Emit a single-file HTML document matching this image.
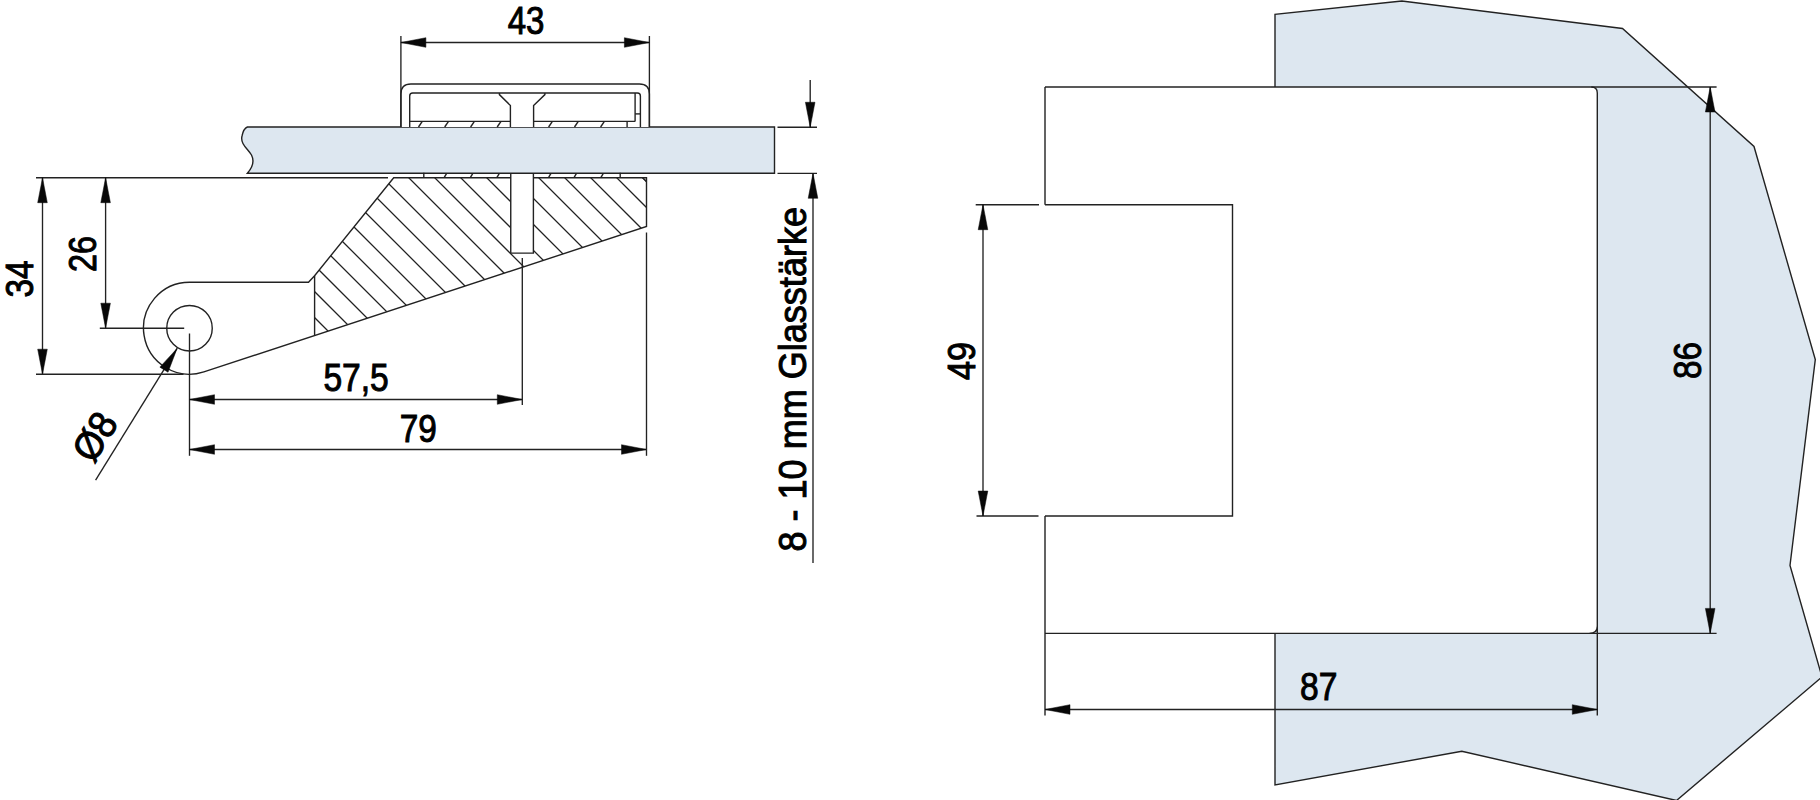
<!DOCTYPE html>
<html><head><meta charset="utf-8"><style>
html,body{margin:0;padding:0;background:#fff;width:1820px;height:800px;overflow:hidden}
svg{display:block}
text{font-family:"Liberation Sans", sans-serif;fill:#000;stroke:#000;stroke-width:1.0px}
</style></head><body>
<svg width="1820" height="800" viewBox="0 0 1820 800">
<rect width="1820" height="800" fill="#fff"/>
<path d="M247.4,173.2 C252,168 255,162 251.5,155 C248,149 240,144 242,136 C243,131 245,128 247.4,127 L774.5,127 L774.5,173.2 Z" fill="#dde7f0" stroke="#222" stroke-width="1.4"/>
<path d="M400.9,127 L400.9,94 Q400.9,84 410.9,84 L639.4,84 Q649.4,84 649.4,94 L649.4,127" fill="#fff" stroke="#222" stroke-width="1.4"/>
<path d="M409.7,127 L409.7,96 Q409.7,93 412.7,93 L637.4,93 Q640.4,93 640.4,96 L640.4,127" fill="none" stroke="#222" stroke-width="1.4"/>
<line x1="635.10" y1="93.00" x2="635.10" y2="121.40" stroke="#222" stroke-width="1.4"/>
<line x1="635.10" y1="113.90" x2="640.40" y2="113.90" stroke="#222" stroke-width="1.4"/>
<line x1="409.70" y1="121.40" x2="510.40" y2="121.40" stroke="#222" stroke-width="1.4"/>
<line x1="533.60" y1="121.40" x2="635.10" y2="121.40" stroke="#222" stroke-width="1.4"/>
<line x1="627.10" y1="121.40" x2="627.10" y2="127.00" stroke="#222" stroke-width="1.4"/>
<line x1="422.30" y1="121.40" x2="418.50" y2="127.00" stroke="#222" stroke-width="1.4"/>
<line x1="448.50" y1="121.40" x2="444.70" y2="127.00" stroke="#222" stroke-width="1.4"/>
<line x1="474.40" y1="121.40" x2="470.60" y2="127.00" stroke="#222" stroke-width="1.4"/>
<line x1="501.00" y1="121.40" x2="497.20" y2="127.00" stroke="#222" stroke-width="1.4"/>
<line x1="552.40" y1="121.40" x2="548.60" y2="127.00" stroke="#222" stroke-width="1.4"/>
<line x1="578.30" y1="121.40" x2="574.50" y2="127.00" stroke="#222" stroke-width="1.4"/>
<line x1="604.40" y1="121.40" x2="600.60" y2="127.00" stroke="#222" stroke-width="1.4"/>
<path d="M499.4,93 L499.4,94.6 L510.4,105.5 L510.4,127 M544.9,93 L544.9,94.6 L533.6,105.5 L533.6,127" fill="none" stroke="#222" stroke-width="1.4"/>
<line x1="400.90" y1="36.00" x2="400.90" y2="127.00" stroke="#222" stroke-width="1.35"/>
<line x1="649.40" y1="36.00" x2="649.40" y2="127.00" stroke="#222" stroke-width="1.35"/>
<line x1="400.90" y1="42.50" x2="649.40" y2="42.50" stroke="#222" stroke-width="1.35"/>
<path d="M400.90,42.50 L425.90,37.70 L425.90,47.30 Z" fill="#080808" stroke="#080808" stroke-width="0.5" stroke-linejoin="miter"/>
<path d="M649.40,42.50 L624.40,47.30 L624.40,37.70 Z" fill="#080808" stroke="#080808" stroke-width="0.5" stroke-linejoin="miter"/>
<text x="526" y="34" font-size="39.3" text-anchor="middle" textLength="36.75" lengthAdjust="spacingAndGlyphs">43</text>
<line x1="777.50" y1="127.25" x2="817.00" y2="127.25" stroke="#222" stroke-width="1.35"/>
<line x1="777.50" y1="173.30" x2="817.00" y2="173.30" stroke="#222" stroke-width="1.35"/>
<line x1="810.20" y1="80.00" x2="810.20" y2="127.25" stroke="#222" stroke-width="1.35"/>
<path d="M810.20,127.25 L805.40,102.25 L815.00,102.25 Z" fill="#080808" stroke="#080808" stroke-width="0.5" stroke-linejoin="miter"/>
<line x1="813.00" y1="173.30" x2="813.00" y2="563.00" stroke="#222" stroke-width="1.35"/>
<path d="M813.00,173.30 L817.80,198.30 L808.20,198.30 Z" fill="#080808" stroke="#080808" stroke-width="0.5" stroke-linejoin="miter"/>
<text x="806" y="551.5" font-size="39.3" text-anchor="start" textLength="344.5" lengthAdjust="spacingAndGlyphs" transform="rotate(-90 806 551.5)">8 - 10 mm Glasstärke</text>
<path d="M393.7,177.7 L646.5,177.7 L646.5,226.5 L203.86,371.90 A46.0,46.0 0 1 1 189.50,282.20 L308.5,282.20 L314.6,275.7 Z" fill="#fff" stroke="none"/>
<clipPath id="hc"><path d="M393.7,177.7 L510.75,177.7 L510.75,253.1 L533.4,253.1 L533.4,177.7 L646.5,177.7 L646.5,226.5 L314.6,335.52 L314.6,275.7 Z" clip-rule="evenodd" fill-rule="evenodd"/></clipPath>
<path d="M115,170 L290,345 M141,170 L316,345 M167,170 L342,345 M193,170 L368,345 M219,170 L394,345 M245,170 L420,345 M271,170 L446,345 M297,170 L472,345 M323,170 L498,345 M349,170 L524,345 M375,170 L550,345 M401,170 L576,345 M427,170 L602,345 M453,170 L628,345 M479,170 L654,345 M505,170 L680,345 M531,170 L706,345 M557,170 L732,345 M583,170 L758,345 M609,170 L784,345 M635,170 L810,345 M661,170 L836,345 M687,170 L862,345 M713,170 L888,345 M739,170 L914,345 M765,170 L940,345 M791,170 L966,345 M817,170 L992,345 M843,170 L1018,345 M869,170 L1044,345 M895,170 L1070,345 M921,170 L1096,345 M947,170 L1122,345 M973,170 L1148,345 M999,170 L1174,345 M1025,170 L1200,345 M1051,170 L1226,345 M1077,170 L1252,345 M1103,170 L1278,345 M1129,170 L1304,345 M1155,170 L1330,345 M1181,170 L1356,345" stroke="#222" stroke-width="1.3" fill="none" clip-path="url(#hc)"/>
<path d="M393.7,177.7 L646.5,177.7 L646.5,226.5 L203.86,371.90 A46.0,46.0 0 1 1 189.50,282.20 L308.5,282.20 L314.6,275.7 Z" fill="none" stroke="#222" stroke-width="1.4"/>
<line x1="314.60" y1="275.70" x2="314.60" y2="335.52" stroke="#222" stroke-width="1.4"/>
<line x1="642.30" y1="177.70" x2="646.50" y2="181.80" stroke="#222" stroke-width="1.1"/>
<path d="M510.75,174 L510.75,253.1 L533.4,253.1 L533.4,174" fill="#fff" stroke="#222" stroke-width="1.4"/>
<line x1="423.80" y1="172.80" x2="423.80" y2="177.70" stroke="#222" stroke-width="1.4"/>
<line x1="620.20" y1="172.80" x2="620.20" y2="177.70" stroke="#222" stroke-width="1.4"/>
<line x1="446.60" y1="173.40" x2="444.30" y2="177.40" stroke="#222" stroke-width="1.4"/>
<line x1="472.80" y1="173.40" x2="470.50" y2="177.40" stroke="#222" stroke-width="1.4"/>
<line x1="499.30" y1="173.40" x2="497.00" y2="177.40" stroke="#222" stroke-width="1.4"/>
<line x1="550.95" y1="173.40" x2="548.65" y2="177.40" stroke="#222" stroke-width="1.4"/>
<line x1="576.45" y1="173.40" x2="574.15" y2="177.40" stroke="#222" stroke-width="1.4"/>
<line x1="603.30" y1="173.40" x2="601.00" y2="177.40" stroke="#222" stroke-width="1.4"/>
<circle cx="189.5" cy="328.2" r="22.75" fill="#fff" stroke="#222" stroke-width="1.4"/>
<line x1="36.00" y1="177.70" x2="388.00" y2="177.70" stroke="#222" stroke-width="1.35"/>
<line x1="42.50" y1="177.70" x2="42.50" y2="374.20" stroke="#222" stroke-width="1.35"/>
<path d="M42.50,177.70 L47.30,202.70 L37.70,202.70 Z" fill="#080808" stroke="#080808" stroke-width="0.5" stroke-linejoin="miter"/>
<path d="M42.50,374.20 L37.70,349.20 L47.30,349.20 Z" fill="#080808" stroke="#080808" stroke-width="0.5" stroke-linejoin="miter"/>
<line x1="36.00" y1="374.20" x2="183.50" y2="374.20" stroke="#222" stroke-width="1.35"/>
<line x1="105.60" y1="177.70" x2="105.60" y2="328.20" stroke="#222" stroke-width="1.35"/>
<path d="M105.60,177.70 L110.40,202.70 L100.80,202.70 Z" fill="#080808" stroke="#080808" stroke-width="0.5" stroke-linejoin="miter"/>
<path d="M105.60,328.20 L100.80,303.20 L110.40,303.20 Z" fill="#080808" stroke="#080808" stroke-width="0.5" stroke-linejoin="miter"/>
<line x1="99.80" y1="328.20" x2="184.20" y2="328.20" stroke="#222" stroke-width="1.35"/>
<line x1="189.50" y1="333.50" x2="189.50" y2="455.80" stroke="#222" stroke-width="1.35"/>
<line x1="189.50" y1="399.50" x2="522.30" y2="399.50" stroke="#222" stroke-width="1.35"/>
<path d="M189.50,399.50 L214.50,394.70 L214.50,404.30 Z" fill="#080808" stroke="#080808" stroke-width="0.5" stroke-linejoin="miter"/>
<path d="M522.30,399.50 L497.30,404.30 L497.30,394.70 Z" fill="#080808" stroke="#080808" stroke-width="0.5" stroke-linejoin="miter"/>
<line x1="522.30" y1="258.00" x2="522.30" y2="405.00" stroke="#222" stroke-width="1.35"/>
<line x1="189.50" y1="449.50" x2="646.50" y2="449.50" stroke="#222" stroke-width="1.35"/>
<path d="M189.50,449.50 L214.50,444.70 L214.50,454.30 Z" fill="#080808" stroke="#080808" stroke-width="0.5" stroke-linejoin="miter"/>
<path d="M646.50,449.50 L621.50,454.30 L621.50,444.70 Z" fill="#080808" stroke="#080808" stroke-width="0.5" stroke-linejoin="miter"/>
<line x1="646.50" y1="232.50" x2="646.50" y2="455.80" stroke="#222" stroke-width="1.35"/>
<line x1="95.60" y1="480.20" x2="177.10" y2="348.40" stroke="#222" stroke-width="1.35"/>
<path d="M177.10,348.40 L168.03,372.19 L159.87,367.14 Z" fill="#080808" stroke="#080808" stroke-width="0.5" stroke-linejoin="miter"/>
<text x="106.41" y="443.66" font-size="39.3" text-anchor="middle" textLength="49" lengthAdjust="spacingAndGlyphs" transform="rotate(-58.27 106.41 443.66)">Ø8</text>
<text x="33.3" y="279" font-size="39.3" text-anchor="middle" textLength="37" lengthAdjust="spacingAndGlyphs" transform="rotate(-90 33.3 279)">34</text>
<text x="95.9" y="254" font-size="39.3" text-anchor="middle" textLength="36" lengthAdjust="spacingAndGlyphs" transform="rotate(-90 95.9 254)">26</text>
<text x="323.4" y="390.7" font-size="39.3" text-anchor="start" textLength="65.4" lengthAdjust="spacingAndGlyphs">57,5</text>
<text x="399.8" y="442" font-size="39.3" text-anchor="start" textLength="37.1" lengthAdjust="spacingAndGlyphs">79</text>
<path d="M1275,87 L1275,14.4 L1401.9,1 L1622.5,28.5 L1754,146.5 L1815.3,359.5 L1790,565.4 L1822,677 L1676.5,800.5 L1461.8,751.2 L1275,785 L1275,633.4" fill="#dde7f0" stroke="#222" stroke-width="1.4"/>
<path d="M1045,87 L1591.3,87 Q1597.3,87 1597.3,93 L1597.3,626 Q1597.3,633.4 1589.5,633.4 L1045,633.4 Z" fill="#fff" stroke="none"/>
<path d="M1045,204.7 L1045,87 M1045,516 L1045,715.5 M1597.3,93 L1597.3,715.5 M1591.3,87 Q1597.3,87 1597.3,93 M1597.3,626 Q1597.3,633.4 1589.5,633.4" fill="none" stroke="#222" stroke-width="1.4"/>
<path d="M1045,204.7 L1232.5,204.7 L1232.5,516 L1045,516" fill="none" stroke="#222" stroke-width="1.4"/>
<line x1="1045.00" y1="87.00" x2="1716.60" y2="87.00" stroke="#222" stroke-width="1.4"/>
<line x1="1045.00" y1="633.40" x2="1716.60" y2="633.40" stroke="#222" stroke-width="1.4"/>
<line x1="975.70" y1="204.70" x2="1039.00" y2="204.70" stroke="#222" stroke-width="1.35"/>
<line x1="976.50" y1="516.00" x2="1038.50" y2="516.00" stroke="#222" stroke-width="1.35"/>
<line x1="983.00" y1="204.70" x2="983.00" y2="516.00" stroke="#222" stroke-width="1.35"/>
<path d="M983.00,204.70 L987.80,229.70 L978.20,229.70 Z" fill="#080808" stroke="#080808" stroke-width="0.5" stroke-linejoin="miter"/>
<path d="M983.00,516.00 L978.20,491.00 L987.80,491.00 Z" fill="#080808" stroke="#080808" stroke-width="0.5" stroke-linejoin="miter"/>
<line x1="1710.20" y1="87.00" x2="1710.20" y2="633.40" stroke="#222" stroke-width="1.35"/>
<path d="M1710.20,87.00 L1715.00,112.00 L1705.40,112.00 Z" fill="#080808" stroke="#080808" stroke-width="0.5" stroke-linejoin="miter"/>
<path d="M1710.20,633.40 L1705.40,608.40 L1715.00,608.40 Z" fill="#080808" stroke="#080808" stroke-width="0.5" stroke-linejoin="miter"/>
<line x1="1045.00" y1="709.50" x2="1597.30" y2="709.50" stroke="#222" stroke-width="1.35"/>
<path d="M1045.00,709.50 L1070.00,704.70 L1070.00,714.30 Z" fill="#080808" stroke="#080808" stroke-width="0.5" stroke-linejoin="miter"/>
<path d="M1597.30,709.50 L1572.30,714.30 L1572.30,704.70 Z" fill="#080808" stroke="#080808" stroke-width="0.5" stroke-linejoin="miter"/>
<text x="974.8" y="361" font-size="39.3" text-anchor="middle" textLength="38" lengthAdjust="spacingAndGlyphs" transform="rotate(-90 974.8 361)">49</text>
<text x="1700.8" y="360.5" font-size="39.3" text-anchor="middle" textLength="37" lengthAdjust="spacingAndGlyphs" transform="rotate(-90 1700.8 360.5)">86</text>
<text x="1300" y="699.8" font-size="39.3" text-anchor="start" textLength="37.4" lengthAdjust="spacingAndGlyphs">87</text>
</svg>
</body></html>
